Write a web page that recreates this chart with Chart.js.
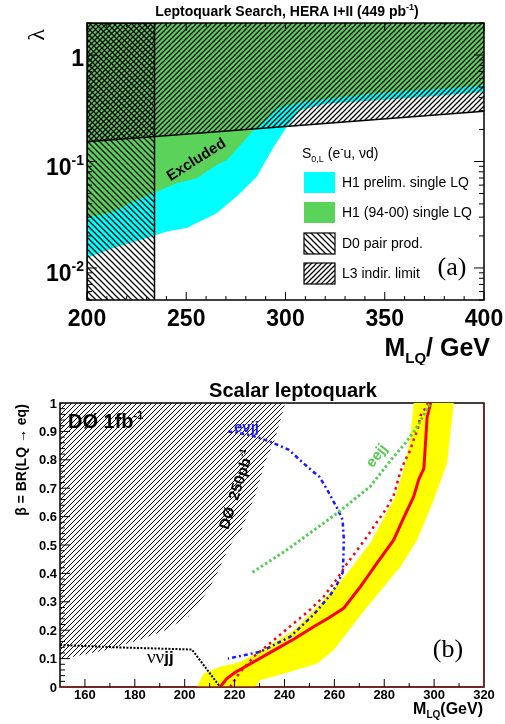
<!DOCTYPE html>
<html>
<head>
<meta charset="utf-8">
<script src="https://cdn.jsdelivr.net/npm/chart.js@4/dist/chart.umd.min.js"></script>
<style>
  html, body { margin: 0; padding: 0; background: #fff; }
  #wrap { position: relative; width: 505px; height: 724px; }
  canvas { position: absolute; left: 0; }
  #top { top: 0; }
  #bot { top: 365px; }
</style>
</head>
<body>
<div id="wrap">
  <canvas id="top" width="505" height="365"></canvas>
  <canvas id="bot" width="505" height="359"></canvas>
</div>
<script>
const SANS = '"Liberation Sans", Arial, Helvetica, sans-serif';
const SERIF = '"Liberation Serif", "Times New Roman", serif';

// ---- panel (a): HERA lambda vs M_LQ ----
const massRangeA = [200, 400];
const lambdaRange = [0.005, 2];
const h1PrelimMass = [200, 213.2, 233.8, 240.2, 250.2, 255.3, 265.3, 275.4, 285.5, 294.0, 300.6, 307.3, 320.8, 344.2, 369.4, 400];
const h1PrelimLambda = [0.0124, 0.0154, 0.0201, 0.0220, 0.0237, 0.0264, 0.0327, 0.0468, 0.0719, 0.137, 0.211, 0.303, 0.350, 0.375, 0.403, 0.449];
const h1OldMass = [200, 213.2, 221.7, 233.8, 245.2, 255.3, 265.3, 270.4, 280.4, 283.8, 297.2, 307.3, 327.5, 352.6, 377.8, 400];
const h1OldLambda = [0.0294, 0.0338, 0.0406, 0.0510, 0.0624, 0.0695, 0.0925, 0.103, 0.165, 0.197, 0.325, 0.362, 0.403, 0.449, 0.483, 0.519];
const l3Mass = [200, 400];
const l3Lambda = [0.153, 0.296];
const d0PairMass = 234;
const massTicksA = [200, 250, 300, 350, 400];
const lambdaTicks = [1, 0.1, 0.01];
const lambdaTickLabels = [['1', ''], ['10', '-1'], ['10', '-2']];
const legendA = ['H1 prelim. single LQ', 'H1 (94-00) single LQ', 'D0 pair prod.', 'L3 indir. limit'];

// ---- panel (b): D0 beta vs M_LQ ----
const massRangeB = [150, 320];
const betaRange = [0, 1];
const d0RunIMass = [150, 150, 240.3, 236.3, 232.3, 228.3, 223, 217.6, 213.6, 209.5, 201.5, 192.2, 181.4, 168.1, 154.7];
const d0RunIBeta = [0.1, 1, 1, 0.875, 0.793, 0.675, 0.56, 0.49, 0.412, 0.341, 0.248, 0.2, 0.165, 0.129, 0.106];
const bandMass = [204.9, 207.5, 214.2, 222.3, 233, 243.7, 254.4, 265.1, 274.4, 284.5, 288.5, 290.5, 291.8,
                  307.9, 305.2, 299.9, 293.2, 286.5, 273.1, 259.7, 253, 239.6, 230.3, 228.3];
const bandBeta = [0, 0.047, 0.071, 0.088, 0.141, 0.2, 0.294, 0.4, 0.507, 0.671, 0.788, 0.882, 1.0,
                  1.0, 0.788, 0.659, 0.518, 0.423, 0.282, 0.129, 0.082, 0.047, 0.024, 0];
const obsMass = [214.2, 216.9, 220, 227.6, 237, 244, 251.7, 258, 263.7, 270.4, 277.1, 283.8, 287.5, 291.8, 293.8, 295.9, 297.2, 298.6];
const obsBeta = [0, 0.03, 0.05, 0.088, 0.135, 0.17, 0.212, 0.245, 0.277, 0.353, 0.436, 0.518, 0.59, 0.67, 0.73, 0.77, 0.95, 1.0];
const expMass = [218.2, 222, 227.6, 235, 243.7, 250, 255.7, 261, 265.1, 269, 273.1, 277, 281, 283.8, 285.2, 286.5, 288.5, 290.5, 291.8, 293.4, 294.5, 296.3, 297.5];
const expBeta = [0, 0.05, 0.106, 0.16, 0.224, 0.27, 0.318, 0.38, 0.435, 0.48, 0.529, 0.58, 0.63, 0.676, 0.718, 0.759, 0.8, 0.835, 0.871, 0.906, 0.955, 0.979, 1.0];
const evjjMass = [217.5, 226, 233.6, 241.6, 249, 254, 257.1, 261.1, 263.3, 263.8, 263.6, 263.3, 261, 258.4, 251.6, 242.3, 230.3, 217.3];
const evjjBeta = [0.9, 0.888, 0.866, 0.836, 0.777, 0.74, 0.695, 0.63, 0.589, 0.52, 0.45, 0.402, 0.36, 0.324, 0.254, 0.177, 0.124, 0.1];
const eejjMass = [227.2, 241, 261.1, 274.4, 279.8, 284.1, 288.5, 292.5, 296, 298.5];
const eejjBeta = [0.404, 0.483, 0.612, 0.706, 0.767, 0.814, 0.859, 0.906, 0.96, 1.0];
const nnjjMass = [150, 174.8, 202.9, 214.2];
const nnjjBeta = [0.148, 0.139, 0.132, 0];
const edgeMass = [150, 320, 320];
const edgeBeta = [0, 0, 1];
const massTicksB = [160, 180, 200, 220, 240, 260, 280, 300, 320];
const betaTicks = [0, 0.1, 0.2, 0.3, 0.4, 0.5, 0.6, 0.7, 0.8, 0.9, 1];
const betaTickLabels = ['0', '0.1', '0.2', '0.3', '0.4', '0.5', '0.6', '0.7', '0.8', '0.9', '1'];

const pts = (xs, ys) => xs.map((x, i) => ({ x, y: ys[i] }));

function hatch(ctx, dir, size, width) {
  const c = document.createElement('canvas');
  c.width = size; c.height = size;
  const g = c.getContext('2d');
  g.strokeStyle = '#000'; g.lineWidth = width;
  g.beginPath();
  if (dir === '/') {
    g.moveTo(-1, size + 1); g.lineTo(size + 1, -1);
    g.moveTo(-1, 1); g.lineTo(1, -1);
    g.moveTo(size - 1, size + 1); g.lineTo(size + 1, size - 1);
  } else {
    g.moveTo(-1, -1); g.lineTo(size + 1, size + 1);
    g.moveTo(size - 1, -1); g.lineTo(size + 1, 1);
    g.moveTo(-1, size - 1); g.lineTo(1, size + 1);
  }
  g.stroke();
  return ctx.createPattern(c, 'repeat');
}

// draw a run of [text, font, dy] pieces, e.g. for super/subscripts
function rich(ctx, parts, x, y, align) {
  let w = 0;
  parts.forEach((p) => { ctx.font = p[1]; w += ctx.measureText(p[0]).width; });
  let cx = align === 'center' ? x - w / 2 : align === 'right' ? x - w : x;
  ctx.textAlign = 'left';
  parts.forEach((p) => {
    ctx.font = p[1];
    ctx.fillText(p[0], cx, y + (p[2] || 0));
    cx += ctx.measureText(p[0]).width;
  });
}

function baseOptions(padding, xRange, yType, yRange) {
  return {
    responsive: false,
    animation: false,
    devicePixelRatio: 1,
    events: [],
    layout: { padding, autoPadding: false },
    elements: { point: { radius: 0 }, line: { tension: 0 } },
    plugins: { legend: { display: false }, tooltip: { enabled: false } },
    scales: {
      x: { type: 'linear', min: xRange[0], max: xRange[1], display: false },
      y: { type: yType, min: yRange[0], max: yRange[1], display: false },
    },
  };
}

function line(data, extra) {
  return Object.assign({ data, showLine: true, fill: false, borderColor: 'rgba(0,0,0,0)', borderWidth: 0, pointRadius: 0 }, extra);
}

// ---------------- panel (a) ----------------
const ctxA = document.getElementById('top').getContext('2d');
const hatchBack = hatch(ctxA, '\\', 6, 1.25);
const hatchFwd = hatch(ctxA, '/', 5, 1.25);

const panelA = {
  id: 'panelA',
  afterDatasetsDraw(chart) {
    const { ctx, chartArea: a, scales: { x, y } } = chart;
    ctx.save();
    ctx.strokeStyle = '#000';
    ctx.lineWidth = 1.5;
    ctx.strokeRect(a.left, a.top, a.right - a.left, a.bottom - a.top);

    ctx.lineWidth = 1;
    ctx.beginPath();
    for (let m = massRangeA[0]; m <= massRangeA[1]; m += 10) {
      const px = x.getPixelForValue(m);
      const len = m % 50 === 0 ? 8 : 4;
      ctx.moveTo(px, a.bottom); ctx.lineTo(px, a.bottom - len);
      ctx.moveTo(px, a.top); ctx.lineTo(px, a.top + len);
    }
    for (let e = -3; e <= 0; e++) {
      for (let k = 1; k < 10; k++) {
        const v = k * Math.pow(10, e);
        if (v < lambdaRange[0] || v > lambdaRange[1]) continue;
        const py = y.getPixelForValue(v);
        const len = k === 1 ? 10 : 5;
        ctx.moveTo(a.left, py); ctx.lineTo(a.left + len, py);
        ctx.moveTo(a.right, py); ctx.lineTo(a.right - len, py);
      }
    }
    ctx.stroke();

    ctx.fillStyle = '#000';
    ctx.textBaseline = 'alphabetic';
    // title
    rich(ctx, [['Leptoquark Search, HERA I+II (449 pb', `bold 14px ${SANS}`], ['-1', `bold 9px ${SANS}`, -6], [')', `bold 14px ${SANS}`]], 287, 16, 'center');
    // tick labels
    lambdaTicks.forEach((v, i) => {
      const py = y.getPixelForValue(v);
      const [base, sup] = lambdaTickLabels[i];
      rich(ctx, [[base, `bold 23px ${SANS}`], [sup, `bold 14px ${SANS}`, -10]], 84, py + (sup ? 13 : 11), 'right');
    });
    ctx.textAlign = 'center';
    ctx.textBaseline = 'middle';
    ctx.font = `bold 23px ${SANS}`;
    massTicksA.forEach((m) => ctx.fillText(String(m), x.getPixelForValue(m), 320));
    // axis titles
    ctx.textBaseline = 'alphabetic';
    rich(ctx, [['M', `bold 25px ${SANS}`], ['LQ', `bold 15px ${SANS}`, 7], ['/ GeV', `bold 25px ${SANS}`]], 490, 356, 'right');
    ctx.save();
    ctx.translate(38, 35);
    ctx.rotate(-Math.PI / 2);
    ctx.textAlign = 'center';
    ctx.textBaseline = 'middle';
    ctx.font = `24px ${SERIF}`;
    ctx.fillText('λ', 0, 0);
    ctx.restore();
    // "Excluded"
    ctx.save();
    ctx.translate(196.5, 160);
    ctx.rotate(-32.4 * Math.PI / 180);
    ctx.textAlign = 'center';
    ctx.textBaseline = 'middle';
    ctx.font = `bold 15px ${SANS}`;
    ctx.fillText('Excluded', 0, 0);
    ctx.restore();
    // legend
    rich(ctx, [['S', `14px ${SANS}`], ['0,L', `9px ${SANS}`, 4], [' (e', `14px ${SANS}`], ['-', `10px ${SANS}`, -6], ['u, νd)', `14px ${SANS}`]], 302, 158, 'left');
    const fills = ['#00ffff', '#5bd35b', hatchBack, hatchFwd];
    const rowY = [183, 213, 244, 274];
    legendA.forEach((label, i) => {
      const top = rowY[i] - 11;
      if (i >= 2) {
        ctx.fillStyle = '#fff';
        ctx.fillRect(304, top, 31, 21);
      }
      ctx.fillStyle = fills[i];
      ctx.fillRect(304, top, 31, 21);
      if (i >= 2) {
        ctx.strokeStyle = '#000';
        ctx.lineWidth = 1.2;
        ctx.strokeRect(304, top, 31, 21);
      }
      ctx.fillStyle = '#000';
      ctx.font = `14px ${SANS}`;
      ctx.textAlign = 'left';
      ctx.textBaseline = 'middle';
      ctx.fillText(label, 342, rowY[i]);
    });
    ctx.font = `26px ${SERIF}`;
    ctx.textAlign = 'center';
    ctx.fillText('(a)', 452, 268);
    ctx.restore();
  },
};

new Chart(ctxA, {
  type: 'scatter',
  data: {
    datasets: [
      line(pts(h1PrelimMass, h1PrelimLambda), { fill: 'end', backgroundColor: '#00ffff', order: 4 }),
      line(pts(h1OldMass, h1OldLambda), { fill: 'end', backgroundColor: '#5bd35b', order: 3 }),
      line(pts(l3Mass, l3Lambda), { fill: 'end', backgroundColor: hatchFwd, borderColor: '#000', borderWidth: 1.5, order: 2 }),
      line(pts([massRangeA[0], massRangeA[0], d0PairMass, d0PairMass], [lambdaRange[0], lambdaRange[1], lambdaRange[1], lambdaRange[0]]),
        { fill: 'shape', backgroundColor: hatchBack, borderColor: '#000', borderWidth: 1.5, order: 1 }),
    ],
  },
  options: baseOptions({ left: 87, right: 21, top: 23, bottom: 65 }, massRangeA, 'logarithmic', lambdaRange),
  plugins: [panelA],
});

// ---------------- panel (b) ----------------
const ctxB = document.getElementById('bot').getContext('2d');
const hatchB = hatch(ctxB, '/', 5, 1);

const panelB = {
  id: 'panelB',
  beforeDatasetsDraw(chart) {
    const { ctx, chartArea: a } = chart;
    ctx.save();
    ctx.strokeStyle = '#000';
    ctx.lineWidth = 1.5;
    ctx.strokeRect(a.left, a.top, a.right - a.left, a.bottom - a.top);
    ctx.restore();
  },
  afterDatasetsDraw(chart) {
    const { ctx, chartArea: a, scales: { x, y } } = chart;
    ctx.save();
    ctx.strokeStyle = '#000';
    ctx.lineWidth = 1;
    ctx.beginPath();
    for (let m = massRangeB[0] + 10; m < massRangeB[1]; m += 10) {
      const px = x.getPixelForValue(m);
      const len = m % 20 === 0 ? 8 : 4;
      ctx.moveTo(px, a.bottom); ctx.lineTo(px, a.bottom - len);
    }
    for (let i = 1; i < 50; i++) {
      const py = y.getPixelForValue(i / 50);
      const len = i % 5 === 0 ? 10 : 5;
      ctx.moveTo(a.left, py); ctx.lineTo(a.left + len, py);
    }
    ctx.stroke();

    ctx.fillStyle = '#000';
    ctx.textBaseline = 'alphabetic';
    ctx.textAlign = 'center';
    ctx.font = `bold 20px ${SANS}`;
    ctx.fillText('Scalar leptoquark', 293, 32);

    ctx.textBaseline = 'middle';
    ctx.textAlign = 'right';
    ctx.font = `bold 13px ${SANS}`;
    betaTicks.forEach((v, i) => ctx.fillText(betaTickLabels[i], 57, y.getPixelForValue(v) + 1));
    ctx.textAlign = 'center';
    massTicksB.forEach((m) => ctx.fillText(String(m), x.getPixelForValue(m), 330));

    ctx.textBaseline = 'alphabetic';
    rich(ctx, [['M', `bold 16px ${SANS}`], ['LQ', `bold 10px ${SANS}`, 4], ['(GeV)', `bold 16px ${SANS}`]], 483, 349, 'right');

    ctx.save();
    ctx.translate(22, 95);
    ctx.rotate(-Math.PI / 2);
    ctx.textAlign = 'center';
    ctx.textBaseline = 'middle';
    ctx.font = `bold 14px ${SANS}`;
    ctx.fillText('β = BR(LQ → eq)', 0, 0);
    ctx.restore();

    rich(ctx, [['DØ 1fb', `bold 20px ${SANS}`], ['-1', `bold 11px ${SANS}`, -9]], 68, 63, 'left');

    ctx.save();
    ctx.translate(237, 125);
    ctx.rotate(-72 * Math.PI / 180);
    ctx.textBaseline = 'middle';
    rich(ctx, [['DØ  250pb', `bold 15px ${SANS}`], ['-1', `bold 9px ${SANS}`, -6]], 0, 0, 'center');
    ctx.restore();

    ctx.fillStyle = '#1a1aff';
    ctx.textAlign = 'center';
    ctx.textBaseline = 'middle';
    ctx.font = `bold 15px ${SANS}`;
    ctx.fillText('eνjj', 246.5, 63);

    ctx.save();
    ctx.translate(377, 91);
    ctx.rotate(-52 * Math.PI / 180);
    ctx.fillStyle = '#55cc55';
    ctx.textAlign = 'center';
    ctx.textBaseline = 'middle';
    ctx.font = `bold 15px ${SANS}`;
    ctx.fillText('eejj', 0, 0);
    ctx.restore();

    ctx.fillStyle = '#000';
    ctx.textBaseline = 'alphabetic';
    rich(ctx, [['νν', `19px ${SERIF}`], ['jj', `bold 17px ${SANS}`]], 147, 298, 'left');

    ctx.font = `26px ${SERIF}`;
    ctx.textAlign = 'center';
    ctx.textBaseline = 'middle';
    ctx.fillText('(b)', 448, 285);
    ctx.restore();
  },
};

new Chart(ctxB, {
  type: 'scatter',
  data: {
    datasets: [
      line(pts(d0RunIMass, d0RunIBeta), { fill: 'shape', backgroundColor: hatchB, order: 9 }),
      line(pts(bandMass, bandBeta), { fill: 'shape', backgroundColor: '#ffff00', order: 8 }),
      line(pts(obsMass, obsBeta), { borderColor: '#ff0000', borderWidth: 3, order: 5 }),
      line(pts(expMass, expBeta), { borderColor: '#ff0000', borderWidth: 2.5, borderDash: [2.5, 4], order: 4 }),
      line(pts(evjjMass, evjjBeta), { borderColor: '#1a1aff', borderWidth: 2.5, borderDash: [4, 3, 2, 3], order: 3 }),
      line(pts(eejjMass, eejjBeta), { borderColor: '#55cc55', borderWidth: 3, borderDash: [2.5, 2.5], order: 2 }),
      line(pts(nnjjMass, nnjjBeta), { borderColor: '#000', borderWidth: 2, borderDash: [2, 1.5], order: 1 }),
      line(pts(edgeMass, edgeBeta), { borderColor: '#cc0000', borderWidth: 1.5, order: 0 }),
    ],
  },
  options: baseOptions({ left: 60, right: 21, top: 38, bottom: 37 }, massRangeB, 'linear', betaRange),
  plugins: [panelB],
});
</script>
</body>
</html>
